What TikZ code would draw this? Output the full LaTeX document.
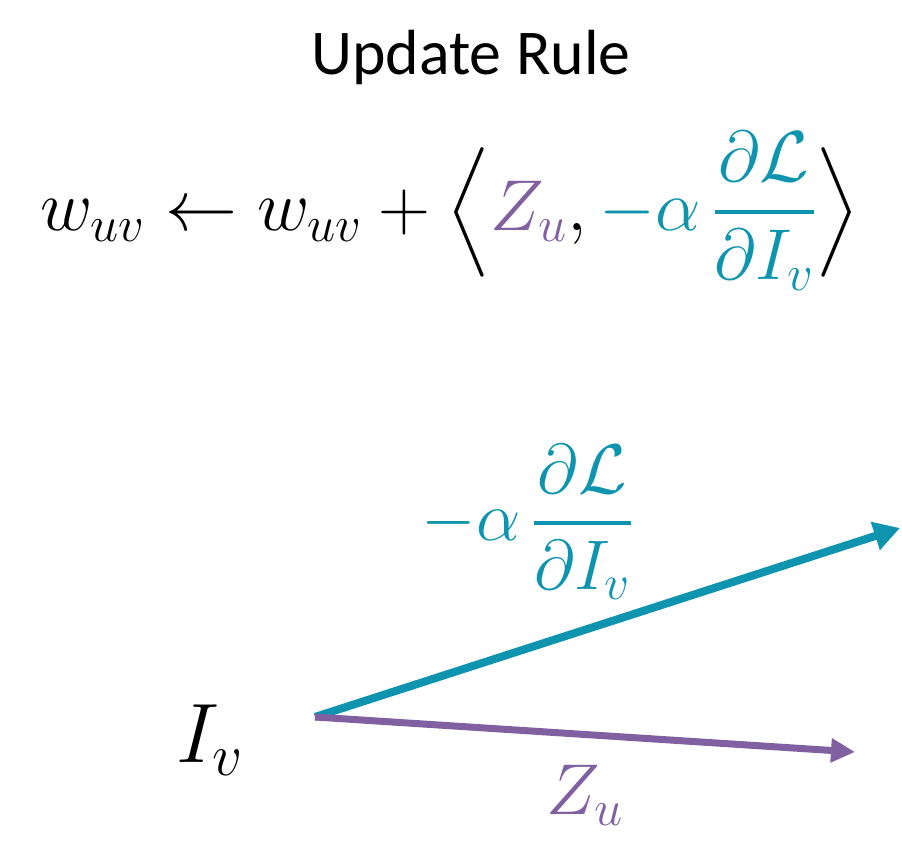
\documentclass[tikz,border=0pt]{standalone}
\usepackage{fix-cm}
\usepackage{amsmath, amssymb}
\usepackage{fontspec}
\setmainfont{Carlito}
\usetikzlibrary{arrows.meta}
\definecolor{gradteal}{RGB}{14,148,174}
\definecolor{zpurple}{RGB}{128,96,160}
\newcommand{\gradfrac}{-\alpha\,\genfrac{}{}{2.4pt}{0}{\partial \mathcal{L}}{\partial I_v}}
\tikzset{
	vec/.style={line width=0.16cm, -{Triangle[length=0.52cm, width=0.56cm]}},
	mathlabel/.style={inner sep=0pt, font=\fontsize{41}{49}\selectfont},
}

\begin{document}
\begin{tikzpicture}
	\useasboundingbox (0, 0) rectangle (18.04, 16.86);
	% Title and rule:
	\node[inner sep=0pt, font=\fontsize{36.3}{44}\selectfont] (title) at (9.42, 15.70) {Update Rule};
	\node[mathlabel] (rule) at (9.0, 12.64) {$w_{uv} \leftarrow w_{uv} + \Bigl\langle {\color{zpurple} Z_u}, {\color{gradteal} \gradfrac} \Bigr\rangle$};
	% Vectors:
	\coordinate (origin) at (6.30, 2.52);
	\coordinate (gradtip) at (18.0, 6.30);
	\coordinate (ztip) at (17.1, 1.82);
	\draw[vec, gradteal] (origin) -- (gradtip);
	\draw[vec, zpurple, line width=0.14cm, -{Triangle[length=0.48cm, width=0.46cm]}] (origin) -- (ztip);
	\node[mathlabel, font=\fontsize{48}{56}\selectfont] (iv) at (4.2, 2.06) {$I_v$};
	\node[mathlabel, gradteal, font=\fontsize{40}{48}\selectfont] (gradlabel) at (10.54, 6.42) {$\gradfrac$};
	\node[mathlabel, zpurple] (zlabel) at (11.7, 0.96) {$Z_u$};
\end{tikzpicture}
\end{document}
